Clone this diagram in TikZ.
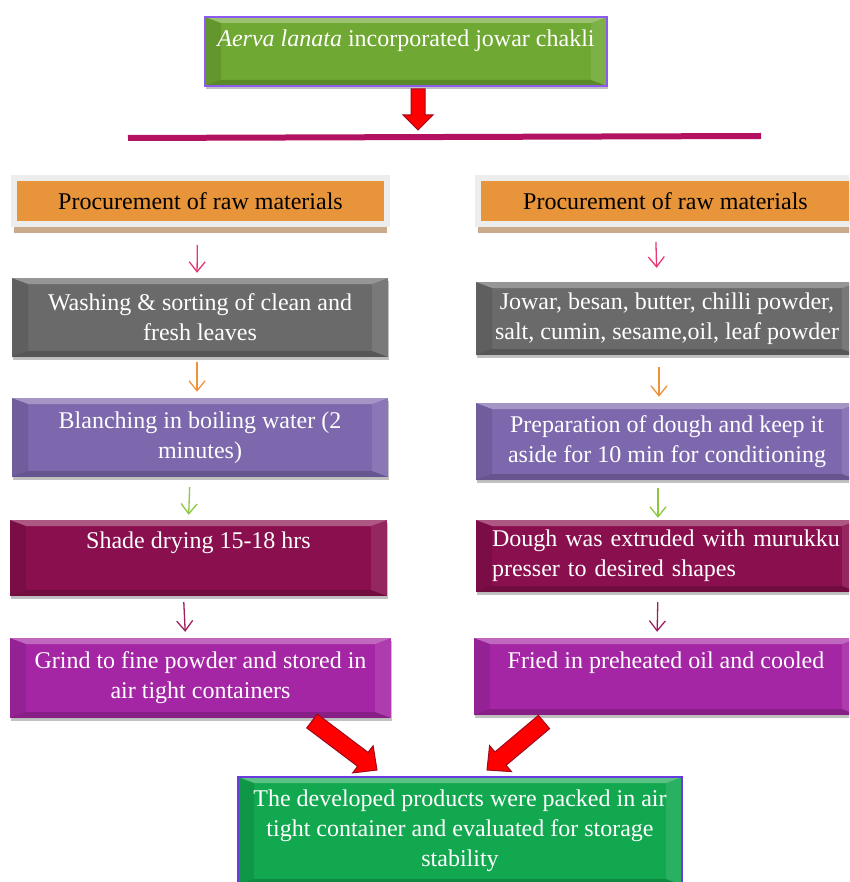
\documentclass[tikz,border=0pt]{standalone}
\usepackage{fontspec}
\setmainfont{Liberation Serif}
\usetikzlibrary{arrows.meta,calc,shadows}

\definecolor{leafgreen}{HTML}{6FA832}
\definecolor{titleviolet}{HTML}{8C5AF0}
\definecolor{procorange}{HTML}{E8943A}
\definecolor{framegray}{HTML}{EDEDED}
\definecolor{frametan}{HTML}{C9AA8A}
\definecolor{stonegray}{HTML}{6A6A6A}
\definecolor{lavender}{HTML}{7D68AE}
\definecolor{wine}{HTML}{8A0F4E}
\definecolor{orchid}{HTML}{A526A5}
\definecolor{finalgreen}{HTML}{12A850}
\definecolor{finalviolet}{HTML}{6A3CE0}
\definecolor{barmagenta}{HTML}{B2125F}
\definecolor{arrowdark}{HTML}{9C0A1E}
\definecolor{pinkline}{HTML}{E8366E}
\definecolor{orangeline}{HTML}{F0923A}
\definecolor{greenline}{HTML}{8DC63F}
\definecolor{wineline}{HTML}{9E1F5F}

\tikzset{
  bevel/.style={path picture={
      \coordinate (bnw) at (path picture bounding box.north west);
      \coordinate (bne) at (path picture bounding box.north east);
      \coordinate (bsw) at (path picture bounding box.south west);
      \coordinate (bse) at (path picture bounding box.south east);
      \fill[white,opacity=.3] (bnw) -- (bne) -- ([shift={(-16pt,-6pt)}]bne) -- ([shift={(16pt,-6pt)}]bnw) -- cycle;
      \fill[black,opacity=.18] (bsw) -- (bse) -- ([shift={(-16pt,6pt)}]bse) -- ([shift={(16pt,6pt)}]bsw) -- cycle;
      \fill[black,opacity=.1] (bnw) -- ([shift={(16pt,-6pt)}]bnw) -- ([shift={(16pt,6pt)}]bsw) -- (bsw) -- cycle;
      \fill[white,opacity=.1] (bne) -- ([shift={(-16pt,-6pt)}]bne) -- ([shift={(-16pt,6pt)}]bse) -- (bse) -- cycle;
    }},
  stepbox/.style={rectangle, align=center, text=white, bevel,
    drop shadow={shadow xshift=1pt, shadow yshift=-3pt, opacity=.35, fill=black!70}},
  procbox/.style={rectangle, fill=procorange, draw=framegray, line width=6pt,
    minimum height=46pt, text=black,
    drop shadow={shadow xshift=0pt, shadow yshift=-9pt, opacity=1, fill=frametan}},
  thinarrow/.style={line width=1.3pt, -{Straight Barb[length=10pt,width=16pt]}},
  redarrow/.style={fill=red, draw=arrowdark, line width=1pt, line join=miter},
  barline/.style={draw=barmagenta, line width=6pt}
}

% block arrow: from, to, half shaft, half head, head length
\newcommand\blockarrow[5]{%
  \coordinate (bah) at ($(#2)!#5!(#1)$);
  \draw[redarrow] ($(#1)!#3!90:(#2)$) -- ($(bah)!#3!90:(#2)$) -- ($(bah)!#4!90:(#2)$) -- (#2)
    -- ($(bah)!#4!-90:(#2)$) -- ($(bah)!#3!-90:(#2)$) -- ($(#1)!#3!-90:(#2)$) -- cycle;}

\begin{document}
\begin{tikzpicture}[x=1pt, y=-1pt, font=\fontsize{24}{30}\selectfont]
  \path[use as bounding box, clip] (0,0) rectangle (849,882);

  %% title and bar
  \node[stepbox, fill=leafgreen, draw=titleviolet, line width=2pt, minimum width=402pt,
    minimum height=69pt, text height=18pt, text depth=27pt] (title) at (406,51.5)
    {\textit{Aerva lanata} incorporated jowar chakli};
  \draw[barline] (128,138) -- (761,136);
  \coordinate (t0) at (418,89);
  \coordinate (t1) at (418,130);
  \blockarrow{t0}{t1}{7pt}{15pt}{15pt}

  %% left column
  \node[procbox, minimum width=373pt] (procL) at (200.5,201) {Procurement of raw materials};
  \node[stepbox, fill=stonegray, minimum width=376pt, minimum height=79pt] (washL) at (200,317.5)
    {Washing \& sorting of clean and\\fresh leaves};
  \node[stepbox, fill=lavender, minimum width=376pt, minimum height=79pt] (blanchL) at (200,437.5)
    {Blanching in boiling water (2\\minutes)};
  \node[stepbox, fill=wine, minimum width=377pt, minimum height=76pt,
    text height=18pt, text depth=38pt] (shadeL) at (198.5,558) {Shade drying 15-18 hrs};
  \node[stepbox, fill=orchid, minimum width=381pt, minimum height=80pt] (grindL) at (200.5,678)
    {Grind to fine powder and stored in\\air tight containers};

  \draw[thinarrow, pinkline, shorten <=18pt, shorten >=5pt] ([xshift=-3pt]procL.south) -- ([xshift=-3pt]washL.north);
  \draw[thinarrow, orangeline, shorten <=5pt, shorten >=6pt] ([xshift=-3pt]washL.south) -- ([xshift=-3pt]blanchL.north);
  \draw[thinarrow, greenline, shorten <=10pt, shorten >=5pt] ([xshift=-10pt]blanchL.south) -- ([xshift=-10pt]shadeL.north);
  \draw[thinarrow, wineline, shorten <=6pt, shorten >=6pt] ([xshift=-15pt]shadeL.south) -- ([xshift=-15pt]grindL.north);

  %% right column
  \node[procbox, minimum width=375pt] (procR) at (665.5,201) {Procurement of raw materials};
  \node[stepbox, fill=stonegray, minimum width=382pt, minimum height=73pt] (mixR) at (667,318.5)
    {Jowar, besan, butter, chilli powder,\\salt, cumin, sesame,oil, leaf powder};
  \node[stepbox, fill=lavender, minimum width=382pt, minimum height=77pt] (doughR) at (667,441.5)
    {Preparation of dough and keep it\\aside for 10 min for conditioning};
  \node[stepbox, fill=wine, minimum width=382pt, minimum height=72pt, text width=350pt,
    align=left] (extrudeR) at (667,556) {Dough was extruded with murukku\\presser to desired shapes};
  \node[stepbox, fill=orchid, minimum width=384pt, minimum height=77pt,
    text height=18pt, text depth=35pt] (fryR) at (666,676.5) {Fried in preheated oil and cooled};

  \draw[thinarrow, pinkline, shorten <=15pt, shorten >=14pt] ([xshift=-10pt]procR.south) -- ([xshift=-10pt]mixR.north);
  \draw[thinarrow, orangeline, shorten <=12pt, shorten >=6pt] ([xshift=-8pt]mixR.south) -- ([xshift=-8pt]doughR.north);
  \draw[thinarrow, greenline, shorten <=8pt, shorten >=2pt] ([xshift=-9pt]doughR.south) -- ([xshift=-9pt]extrudeR.north);
  \draw[thinarrow, wineline, shorten <=10pt, shorten >=6pt] ([xshift=-9pt]extrudeR.south) -- ([xshift=-9pt]fryR.north);

  %% final box
  \node[stepbox, fill=finalgreen, draw=finalviolet, line width=2pt, minimum width=444pt,
    minimum height=108pt] (packed) at (460,831)
    {The developed products were packed in air\\tight container and evaluated for storage\\stability};

  \coordinate (la0) at (312,721);
  \coordinate (la1) at (377,770);
  \blockarrow{la0}{la1}{8.7pt}{17pt}{17.7pt}
  \coordinate (ra0) at (544,722);
  \coordinate (ra1) at (487,770);
  \blockarrow{ra0}{ra1}{8.7pt}{17pt}{17.7pt}
\end{tikzpicture}
\end{document}
